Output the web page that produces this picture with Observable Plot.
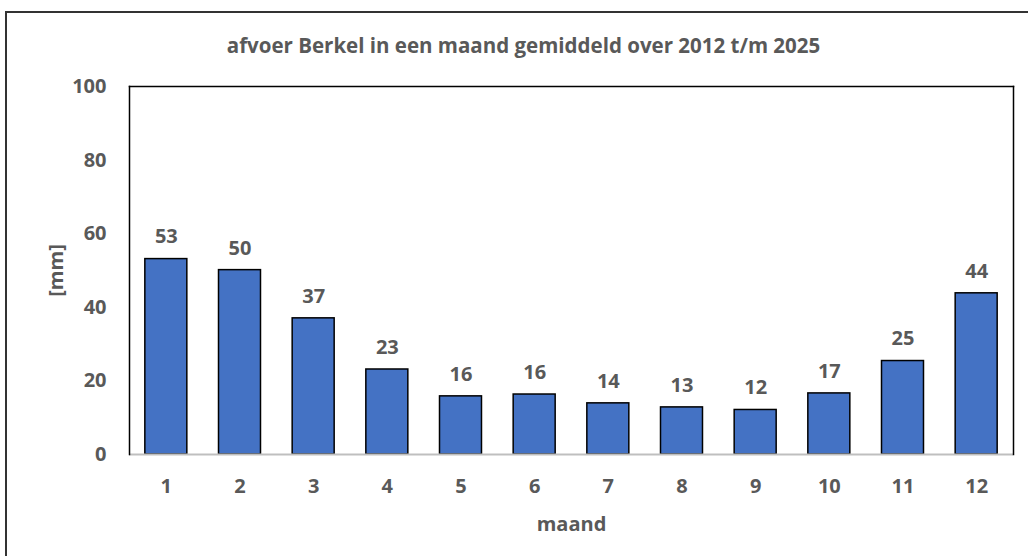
<!DOCTYPE html>
<html><head><meta charset="utf-8">
<script src="https://cdn.jsdelivr.net/npm/d3@7"></script>
<script src="https://cdn.jsdelivr.net/npm/@observablehq/plot@0.6"></script>
<style>
html,body{margin:0;padding:0;background:#fff;overflow:hidden;width:1028px;height:556px;}
#wrap{position:relative;width:1028px;height:556px;}
#border{position:absolute;left:5px;top:11px;width:1100px;height:700px;border:2px solid #333;pointer-events:none;}
</style></head>
<body><div id="wrap"><div id="border"></div></div>
<script>
const months = [1,2,3,4,5,6,7,8,9,10,11,12];
const values = [53.1, 50.1, 37.0, 23.1, 15.8, 16.3, 13.9, 12.8, 12.1, 16.6, 25.4, 43.8];
const yTicks = [0,20,40,60,80,100];
const title = "afvoer Berkel in een maand gemiddeld over 2012 t/m 2025";
const xLabel = "maand";
const yLabel = "[mm]";

const data = months.map((m,i)=>({maand:m, mm:values[i]}));
const txt = "#595959";

const chart = Plot.plot({
  width: 1028, height: 556,
  marginTop: 86, marginBottom: 102, marginLeft: 129, marginRight: 15,
  style: {fontFamily: "'Open Sans', sans-serif", fontSize: "20px", fontWeight: "bold", color: txt, background: "transparent"},
  x: {type: "band", domain: months, paddingInner: 0.43, paddingOuter: 0.215, round: false},
  y: {domain: [0,100]},
  marks: [
    Plot.barY(data, {x: "maand", y: "mm", fill: "#4472C4", stroke: "#000", strokeWidth: 1.5}),
    Plot.ruleY([0], {stroke: "#bfbfbf", strokeWidth: 2}),
    Plot.frame({anchor: "left", stroke: "#000", strokeWidth: 1.5}),
    Plot.frame({anchor: "top", stroke: "#000", strokeWidth: 1.5}),
    Plot.frame({anchor: "right", stroke: "#000", strokeWidth: 1.5}),
    Plot.text(data, {x: "maand", y: "mm", text: d => d3.format(".0f")(d.mm), dy: -22, fill: txt, fontSize: 20, fontWeight: "bold"}),
    Plot.axisY({ticks: yTicks, tickSize: 0, tickPadding: 23, label: yLabel, labelAnchor: "center", labelOffset: 81, labelArrow: "none", fill: txt}),
    Plot.axisX({tickSize: 0, tickPadding: 24, label: xLabel, labelAnchor: "center", labelOffset: 76, labelArrow: "none", fill: txt}),
    Plot.text([title], {frameAnchor: "top", dy: -48, dx: -48, fontSize: 20.5, fontWeight: "bold", fill: txt})
  ]
});
chart.style.position = "absolute";
chart.style.left = "0px";
chart.style.top = "0px";
document.getElementById("wrap").prepend(chart);
</script>
</body></html>
